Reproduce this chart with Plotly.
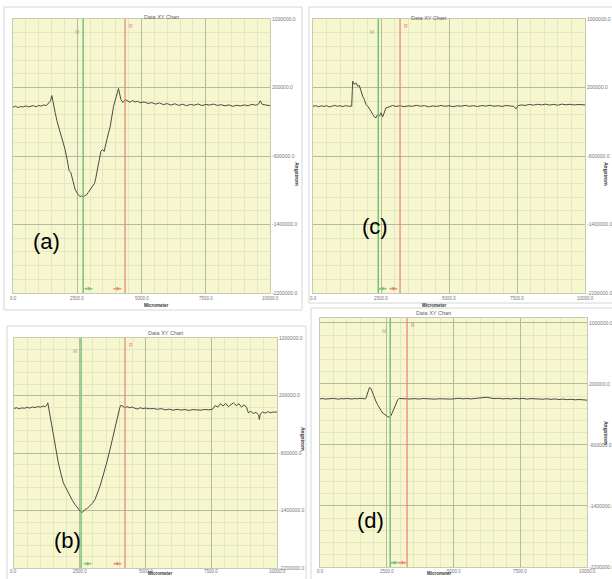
import plotly.graph_objects as go

W, H = 612, 579

# ---------------- data (x: Micrometer, y: Angstrom) ----------------
a_x = [0, 100, 200, 300, 400, 500, 600, 700, 800, 900, 1000, 1100, 1200, 1300, 1400, 1460, 1510, 1560,
       1640, 1715, 1780, 1805, 1910, 2027, 2105, 2160, 2183, 2250, 2340, 2417, 2534, 2612, 2680, 2729,
       2807, 2870, 2924, 3041, 3170, 3220, 3263, 3341, 3419, 3481, 3548, 3653, 3782, 3911, 4016, 4105,
       4198, 4276, 4366, 4450, 4550, 4650, 4750, 4850, 4950, 5100, 5250, 5400, 5550, 5700, 5850, 6000,
       6150, 6300, 6450, 6600, 6750, 6900, 7050, 7200, 7350, 7500, 7650, 7800, 7950, 8100, 8250, 8400,
       8550, 8700, 8850, 9000, 9150, 9300, 9450, 9560, 9620, 9700, 9850, 10000]
a_y = [-30000, -18000, -34000, -22000, -27000, -14000, -25000, -19000, -12000, -26000, -9000, -17000,
       -3000, -11000, 18000, 45000, 106000, 15000, -92000, -197000, -262000, -300000, -384000, -524000,
       -641000, -735000, -770000, -793000, -910000, -991000, -1050000, -1073000, -1065000, -1080000,
       -1061000, -1052000, -1026000, -980000, -921000, -860000, -793000, -711000, -547000, -524000,
       -547000, -407000, -255000, -22000, 95000, 188000, 60000, 25000, 60000, 42000, 28000, 48000,
       30000, 40000, 22000, 32000, 14000, 24000, 6000, 20000, 0, 12000, -6000, 10000, -9000, 5000,
       -13000, 3000, -7000, 8000, -11000, 2000, -5000, 6000, -9000, -1000, -14000, -3000, -20000,
       -7000, -15000, -4000, -13000, 4000, -8000, 10000, 45000, 2000, -6000, -12000]

b_x = [0, 100, 200, 300, 400, 500, 600, 700, 800, 900, 1000, 1100, 1200, 1250, 1285, 1370, 1495, 1590,
       1685, 1780, 1875, 1940, 2004, 2070, 2129, 2220, 2319, 2420, 2510, 2560, 2611, 2650, 2700, 2790,
       2890, 2980, 3080, 3170, 3270, 3360, 3460, 3550, 3650, 3740, 3840, 3910, 3966, 4020, 4057, 4120,
       4221, 4300, 4400, 4500, 4600, 4700, 4800, 4900, 5000, 5150, 5300, 5450, 5600, 5750, 5900, 6050,
       6200, 6350, 6500, 6650, 6800, 6950, 7100, 7250, 7400, 7550, 7650, 7750, 7850, 7950, 8050, 8150,
       8250, 8340, 8450, 8550, 8650, 8750, 8850, 8910, 9000, 9100, 9200, 9300, 9330, 9360, 9450, 9550,
       9650, 9750, 9850, 10000]
b_y = [20000, 30000, 15000, 28000, 22000, 35000, 25000, 40000, 32000, 45000, 38000, 52000, 48000, 65000,
       98000, -88000, -366000, -560000, -736000, -880000, -1014000, -1060000, -1108000, -1150000,
       -1201000, -1260000, -1317000, -1372000, -1410000, -1430000, -1424000, -1400000, -1386000,
       -1370000, -1340000, -1300000, -1247000, -1165000, -1062000, -950000, -830000, -700000, -551000,
       -400000, -249000, -140000, -41000, 30000, 61000, 55000, 29000, 45000, 30000, 38000, 22000, 12000,
       30000, 18000, 25000, 15000, 20000, 8000, 18000, 0, 10000, -5000, 8000, -3000, 5000, -8000, 4000,
       2000, -4000, 6000, 0, 10000, 60000, 40000, 85000, 55000, 90000, 45000, 80000, 98000, 60000, 85000,
       40000, 70000, 30000, -41000, -20000, -50000, -35000, -70000, -134000, -60000, -30000, -45000,
       -25000, -40000, -30000, -32000]

c_x = [0, 100, 200, 300, 400, 500, 600, 700, 800, 900, 1000, 1100, 1200, 1300, 1400, 1422, 1458, 1520,
       1581, 1642, 1703, 1765, 1826, 1887, 1949, 2010, 2071, 2132, 2194, 2255, 2316, 2377, 2439, 2500,
       2561, 2622, 2684, 2806, 2929, 3050, 3200, 3350, 3500, 3650, 3800, 3950, 4100, 4250, 4400, 4550,
       4700, 4850, 5000, 5150, 5300, 5450, 5600, 5750, 5900, 6050, 6200, 6350, 6500, 6650, 6800, 6950,
       7100, 7250, 7380, 7460, 7540, 7650, 7800, 7950, 8100, 8250, 8400, 8550, 8700, 8850, 9000, 9150,
       9300, 9450, 9600, 9750, 9900, 10000]
c_y = [-20000, -11000, -24000, -15000, -21000, -12000, -27000, -17000, -9000, -20000, -13000, -23000,
       -12000, -19000, -16000, -18000, 274000, 235000, 254500, 215500, 223000, 157000, 98800, 60000,
       1500, -18000, -57000, -76400, -115000, -142600, -154000, -115000, -135000, -96000, -142600,
       -96000, -37400, -25800, -10000, -22000, -12000, -25000, -14000, -20000, -8000, -18000, -12000,
       -26000, -15000, -21000, -10000, -19000, -13000, -24000, -14000, -18000, -9000, -20000, -12000,
       -22000, -11000, -17000, -8000, -19000, -13000, -21000, -10000, -16000, -20000, -49000, -12000,
       -4000, -9000, 2000, -6000, 4000, -3000, 5000, -5000, 3000, -7000, 6000, -2000, 4000, -4000, 2000,
       -6000, -3000]

d_x = [0, 100, 200, 300, 400, 500, 600, 700, 800, 900, 1000, 1100, 1200, 1300, 1400, 1500, 1600, 1700,
       1723, 1785, 1848, 1910, 1973, 2035, 2097, 2160, 2222, 2285, 2347, 2410, 2472, 2534, 2597, 2659,
       2722, 2784, 2846, 2909, 2971, 3100, 3250, 3400, 3550, 3700, 3850, 4000, 4150, 4300, 4450, 4600,
       4750, 4900, 5050, 5200, 5350, 5500, 5650, 5800, 5950, 6100, 6250, 6400, 6550, 6700, 6850, 7000,
       7150, 7300, 7450, 7600, 7750, 7900, 8050, 8200, 8350, 8500, 8650, 8800, 8950, 9100, 9250, 9400,
       9550, 9700, 9850, 10000]
d_y = [4000, 9000, 2000, 7000, 3000, 10000, 5000, 1000, 8000, 4000, 11000, 6000, 2000, 9000, 5000, 12000,
       7000, 4000, 14000, 100000, 152000, 139000, 78600, 13600, -29800, -73000, -116500, -147000,
       -181500, -203000, -212000, -229000, -238000, -216000, -160000, -116500, -60000, -8000, 9200,
       6000, 10000, 3000, 8000, 2000, 9000, 4000, 7000, 1000, 6000, 3000, 9000, 2000, 7000, 12000, 5000,
       10000, 4000, 9000, 13000, 18000, 26000, 15000, 8000, 12000, 4000, 9000, 3000, 10000, 5000, 11000,
       2000, 8000, 4000, 9000, 0, 6000, -2000, 4000, -4000, 2000, -6000, 0, -8000, -4000, -10000, -12000]

panel_labels = ["(a)", "(b)", "(c)", "(d)"]
green_cursor = [2730, 2550, 2400, 2630]
red_cursor = [4360, 4220, 3200, 3260]
green_arrow = [2920, 2810, 2560, 2780]
red_arrow = [4050, 3930, 2960, 3080]

x_ticks = [0, 2500, 5000, 7500, 10000]
x_ticktext = ["0.0", "2500.0", "5000.0", "7500.0", "10000.0"]
y_ticks = [1000000, 200000, -600000, -1400000, -2200000]
y_ticktext = ["1000000.0", "200000.0", "-600000.0", "-1400000.0", "-2200000.0"]

series = [(a_x, a_y), (b_x, b_y), (c_x, c_y), (d_x, d_y)]

# ---------------- layout geometry (pixels) ----------------
plot_boxes = [(13, 19, 270, 293), (14, 338, 277, 568), (313, 19, 585, 293), (320, 318, 587, 567)]
y_tops = [1000000, 1000000, 1000000, 1065000]
frames = [(4, 7, 302, 310), (7, 326, 306, 600), (309, 7, 640, 303), (311, 308, 640, 600)]
label_pos = [(31, 241), (52, 555), (375, 226), (370, 535)]
angstrom_pos = [(297, 160), (303, 453), (611, 160), (611, 447)]
title_y = [12, 333, 13, 313]
micro_y = [305, 577.5, 305, 577.5]
xtick_y = [298, 571.5, 298, 571]

def px(x):
    return x / W

def py(y):
    return 1 - y / H

BG = "#f7f7cf"
MINOR = "#e4e8c2"
MAJOR = "#b3bba0"
GREEN = "#78c078"
RED = "#e8826e"
LINE = "#4a4a42"

fig = go.Figure()
shapes = []
annotations = []

for i, ((xs, ys), box) in enumerate(zip(series, plot_boxes)):
    n = i + 1
    xa = "x" if n == 1 else f"x{n}"
    ya = "y" if n == 1 else f"y{n}"
    fig.add_trace(go.Scatter(x=xs, y=ys, mode="lines", xaxis=xa, yaxis=ya,
                             line=dict(color=LINE, width=1), showlegend=False, hoverinfo="skip"))
    x0, y0, x1, y1 = box
    xkey = "xaxis" if n == 1 else f"xaxis{n}"
    ykey = "yaxis" if n == 1 else f"yaxis{n}"
    fig.update_layout(**{
        xkey: dict(domain=[px(x0), px(x1)], anchor=ya, range=[0, 10000], tickmode="array",
                   tickvals=x_ticks, ticktext=[""] * 5, showgrid=True, gridcolor=MAJOR, gridwidth=1,
                   minor=dict(dtick=500, tick0=0, showgrid=True, gridcolor=MINOR, gridwidth=1),
                   zeroline=False, showline=True, mirror=True, linecolor="#c9c9b8", linewidth=1,
                   ticks="", automargin=False, fixedrange=True),
        ykey: dict(domain=[py(y1), py(y0)], anchor=xa, range=[-2200000, y_tops[i]], side="right",
                   tickmode="array", tickvals=y_ticks, ticktext=y_ticktext,
                   tickfont=dict(size=5, color="#777777", family="Liberation Sans"),
                   showgrid=True, gridcolor=MAJOR, gridwidth=1,
                   minor=dict(dtick=160000, tick0=-2200000, showgrid=True, gridcolor=MINOR, gridwidth=1),
                   zeroline=False, showline=True, mirror=True, linecolor="#c9c9b8", linewidth=1,
                   ticks="", automargin=False, fixedrange=True),
    })

    # panel frame
    fx0, fy0, fx1, fy1 = frames[i]
    shapes.append(dict(type="rect", xref="paper", yref="paper", x0=px(fx0), x1=px(fx1),
                       y0=py(fy1), y1=py(fy0), line=dict(color="#d6d6d6", width=1), layer="below"))
    # plot background
    shapes.append(dict(type="rect", xref="paper", yref="paper", x0=px(x0), x1=px(x1),
                       y0=py(y1), y1=py(y0), line=dict(width=0), fillcolor=BG, layer="below"))
    # cursors
    shapes.append(dict(type="line", xref=xa, yref=f"{ya} domain", x0=green_cursor[i], x1=green_cursor[i],
                       y0=0, y1=1, line=dict(color=GREEN, width=1.5)))
    shapes.append(dict(type="line", xref=xa, yref=f"{ya} domain", x0=red_cursor[i], x1=red_cursor[i],
                       y0=0, y1=1, line=dict(color=RED, width=1.2)))
    annotations.append(dict(x=green_cursor[i], y=1, xref=xa, yref=f"{ya} domain", text="M",
                            showarrow=False, xanchor="right", yanchor="top", xshift=-2, yshift=-8,
                            font=dict(size=5, color=GREEN, family="Liberation Sans")))
    annotations.append(dict(x=red_cursor[i], y=1, xref=xa, yref=f"{ya} domain", text="R",
                            showarrow=False, xanchor="left", yanchor="top", xshift=2, yshift=-2,
                            font=dict(size=5, color=RED, family="Liberation Sans")))
    annotations.append(dict(x=green_arrow[i], y=0, xref=xa, yref=f"{ya} domain", text="◂◆▸",
                            showarrow=False, yanchor="bottom", yshift=0,
                            font=dict(size=5, color=GREEN, family="DejaVu Sans")))
    annotations.append(dict(x=red_arrow[i], y=0, xref=xa, yref=f"{ya} domain", text="◂◆▸",
                            showarrow=False, yanchor="bottom", yshift=0,
                            font=dict(size=5, color=RED, family="DejaVu Sans")))
    # x tick labels
    for tv, tt in zip(x_ticks, x_ticktext):
        annotations.append(dict(x=tv, y=py(xtick_y[i]), xref=xa, yref="paper", text=tt, showarrow=False,
                                xanchor="center", yanchor="middle",
                                font=dict(size=4.5, color="#777777", family="Liberation Sans")))
    # title / axis titles
    cx = (x0 + x1) / 2
    annotations.append(dict(x=px(cx), y=py(title_y[i]), xref="paper", yref="paper", text="Data XY Chart",
                            showarrow=False, font=dict(size=5.5, color="#666666", family="Liberation Sans")))
    annotations.append(dict(x=px(cx), y=py(micro_y[i]), xref="paper", yref="paper", text="<b>Micrometer</b>",
                            showarrow=False, font=dict(size=4.5, color="#333333", family="Liberation Sans")))
    ax_, ay_ = angstrom_pos[i]
    annotations.append(dict(x=px(ax_), y=py(ay_), xref="paper", yref="paper", text="<b>Angstrom</b>",
                            showarrow=False, textangle=90,
                            font=dict(size=5, color="#333333", family="Liberation Sans")))
    lx, ly = label_pos[i]
    annotations.append(dict(x=px(lx), y=py(ly), xref="paper", yref="paper", text=panel_labels[i],
                            showarrow=False, font=dict(size=22, color="#000000", family="Liberation Sans")))

fig.update_layout(width=W, height=H, margin=dict(l=0, r=0, t=0, b=0), template="none",
                  paper_bgcolor="white", plot_bgcolor="rgba(0,0,0,0)",
                  shapes=shapes, annotations=annotations, showlegend=False)

fig.write_html("out.html", config={"displayModeBar": False},
               post_script="document.body.style.margin='0';document.body.style.overflow='hidden';")
